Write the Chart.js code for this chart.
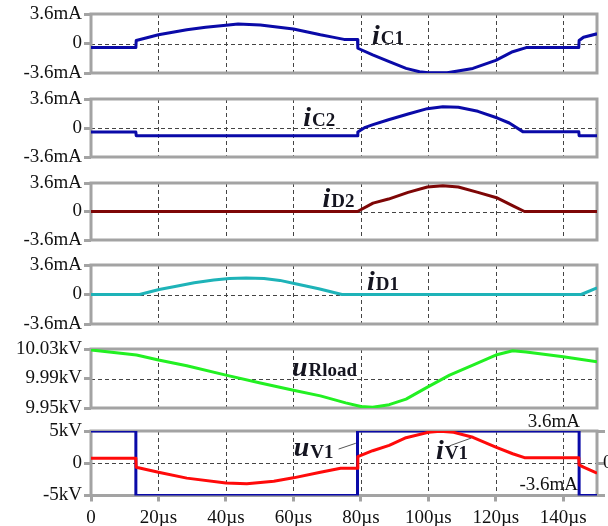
<!DOCTYPE html>
<html>
<head>
<meta charset="utf-8">
<script src="https://cdn.jsdelivr.net/npm/chart.js@4.4.1/dist/chart.umd.min.js"></script>
<style>
  html, body { margin: 0; padding: 0; background: #fff; width: 608px; height: 526px; overflow: hidden; position: relative; }
  .panel { position: absolute; left: 0; width: 608px; }
</style>
</head>
<body>
<div class="panel" style="top:0px;height:87px"><canvas id="c1"></canvas></div>
<div class="panel" style="top:85px;height:86px"><canvas id="c2"></canvas></div>
<div class="panel" style="top:169px;height:85px"><canvas id="c3"></canvas></div>
<div class="panel" style="top:251px;height:87px"><canvas id="c4"></canvas></div>
<div class="panel" style="top:335px;height:87px"><canvas id="c5"></canvas></div>
<div class="panel" style="top:410px;height:126px"><canvas id="c6"></canvas></div>
<script>
// tick values / labels
const timeTicks = [0, 20, 40, 60, 80, 100, 120, 140];
const timeTickLabels = ['0', '20µs', '40µs', '60µs', '80µs', '100µs', '120µs', '140µs'];
const mATicks = [-3.6, 0, 3.6];
const mATickLabels = ['-3.6mA', '0', '3.6mA'];
const loadTicks = [9.95, 9.99, 10.03];
const loadTickLabels = ['9.95kV', '9.99kV', '10.03kV'];
const kVTicks = [-5, 0, 5];
const kVTickLabels = ['-5kV', '0', '5kV'];

// series (time in µs)
const tIC1 = [0, 13.3, 13.4, 20, 28.4, 34, 40, 43.6, 50.2, 60, 68, 72, 75, 79, 79.1, 83.5, 88.4, 93.4, 97.4, 100, 105.6, 113.2, 120, 125, 129, 144.6, 144.7, 146, 150];
const iC1 = [-0.5, -0.5, 0.36, 1.06, 1.67, 1.98, 2.22, 2.37, 2.25, 1.76, 1.06, 0.75, 0.5, 0.5, -0.58, -1.4, -2.22, -3.04, -3.45, -3.58, -3.58, -3.04, -2.05, -1.0, -0.5, -0.5, 0.36, 0.77, 1.18];

const tIC2 = [0, 13.3, 13.4, 79, 79.1, 81.3, 83.6, 88.2, 94, 99.7, 104.3, 108.9, 114.7, 120.5, 124, 128, 144.6, 144.7, 150];
const iC2 = [-0.5, -0.5, -0.95, -0.95, -0.5, 0.08, 0.41, 1.03, 1.74, 2.4, 2.65, 2.57, 2.07, 1.24, 0.62, -0.45, -0.45, -0.95, -0.95];

const tID2 = [0, 79, 83.6, 88.2, 94, 99.7, 104.3, 108.9, 114.7, 120.5, 125.1, 128.5, 150];
const iD2 = [0, 0, 1.06, 1.57, 2.42, 3.1, 3.26, 3.1, 2.42, 1.7, 0.72, 0, 0];

const tID1 = [0, 14.4, 20.2, 24.9, 30.6, 36.4, 41, 46, 51.3, 56, 60.6, 67.5, 74.4, 145.3, 150];
const iD1 = [0, 0, 0.61, 0.98, 1.43, 1.76, 1.96, 2.0, 1.96, 1.72, 1.31, 0.7, 0, 0, 0.82];

const tLoad = [0, 13.5, 20, 28.4, 40, 50.2, 60, 68, 75.5, 80, 83.5, 88.4, 93.4, 100, 106.3, 113.2, 120, 125, 129, 140, 150];
const uLoad = [10.0287, 10.0218, 10.015, 10.0073, 9.9946, 9.984, 9.974, 9.9664, 9.957, 9.952, 9.951, 9.9545, 9.962, 9.979, 9.9946, 10.008, 10.0218, 10.0277, 10.026, 10.0195, 10.0127];

const tUV1 = [0, 13.3, 13.3, 79, 79, 144.7, 144.7, 150];
const uV1 = [5, 5, -5, -5, 5, 5, -5, -5];

const tIV1 = [0, 13.3, 13.4, 20, 28.4, 40, 46.2, 54.2, 60, 68, 74, 79, 79.1, 83.5, 88.4, 93.4, 100, 103.5, 107.5, 113.2, 120, 125, 128.5, 144.6, 144.7, 146, 150];
const iV1 = [0.55, 0.55, -0.44, -1.0, -1.66, -2.2, -2.29, -2.0, -1.63, -1.0, -0.55, -0.55, 0.74, 1.4, 2.0, 2.85, 3.45, 3.56, 3.45, 2.9, 1.8, 1.06, 0.62, 0.62, -0.19, -0.44, -1.11];

const SERIF = '"Liberation Serif", "Times New Roman", serif';

function pts(t, v) {
  return t.map((x, i) => ({ x: x, y: v[i] }));
}

function line(t, v, color, extra) {
  return Object.assign({
    data: pts(t, v),
    borderColor: color,
    borderWidth: 3,
    pointRadius: 0,
    fill: false,
    tension: 0,
    borderJoinStyle: 'round'
  }, extra || {});
}

// dashed grid + grey frame, drawn under the curves
const framePlugin = {
  id: 'frame',
  beforeDatasetsDraw(chart) {
    const a = chart.chartArea, ctx = chart.ctx, xs = chart.scales.x, ys = chart.scales.y;
    ctx.save();
    ctx.fillStyle = '#444444';
    timeTicks.forEach(v => {
      const px = Math.round(xs.getPixelForValue(v));
      for (let y = a.top; y < a.bottom; y += 7) ctx.fillRect(px, y, 1, Math.min(4, a.bottom - y));
    });
    const py = Math.round(ys.getPixelForValue((ys.min + ys.max) / 2));
    for (let x = a.left; x < a.right; x += 7) ctx.fillRect(x, py, Math.min(4, a.right - x), 1);
    ctx.strokeStyle = '#a3a3a3';
    ctx.lineWidth = 3;
    ctx.strokeRect(a.left, a.top, a.right - a.left, a.bottom - a.top);
    ctx.restore();
  }
};

function labelPlugin(labels, leaders, extraText) {
  return {
    id: 'names',
    afterDraw(chart) {
      const ctx = chart.ctx, xs = chart.scales.x, ys = chart.scales.y;
      ctx.save();
      (leaders || []).forEach(l => {
        ctx.strokeStyle = '#555';
        ctx.lineWidth = 1;
        ctx.beginPath();
        ctx.moveTo(xs.getPixelForValue(l.x1), ys.getPixelForValue(l.y1));
        ctx.lineTo(xs.getPixelForValue(l.x2), ys.getPixelForValue(l.y2));
        ctx.stroke();
      });
      labels.forEach(l => {
        const x = xs.getPixelForValue(l.x), y = ys.getPixelForValue(l.y);
        ctx.fillStyle = '#151520';
        ctx.textBaseline = 'alphabetic';
        ctx.textAlign = 'left';
        ctx.font = 'italic bold 28px ' + SERIF;
        ctx.fillText(l.main, x, y);
        const w = ctx.measureText(l.main).width;
        ctx.font = 'bold 19px ' + SERIF;
        ctx.fillText(l.sub, x + w + 1, y + l.drop);
      });
      if (extraText) extraText(chart, ctx);
      ctx.restore();
    }
  };
}

function makePanel(id, datasets, yMin, yMax, yTicks, yLabels, opts) {
  const bottomAxis = !!opts.bottomAxis;
  const scales = {
    x: {
      type: 'linear', min: 0, max: 150,
      afterBuildTicks: s => { s.ticks = timeTicks.map(v => ({ value: v })); },
      ticks: {
        display: bottomAxis,
        padding: 7,
        color: '#111',
        font: { family: SERIF, size: 19, lineHeight: 1 },
        maxRotation: 0,
        callback: (v, i) => timeTickLabels[i]
      },
      grid: {
        drawOnChartArea: false,
        drawTicks: bottomAxis, tickLength: 6, tickColor: '#a3a3a3', tickWidth: 3
      },
      border: { display: false }
    },
    y: {
      type: 'linear', min: yMin, max: yMax,
      afterBuildTicks: s => { s.ticks = yTicks.map(v => ({ value: v })); },
      afterFit: s => { s.width = 91; },
      ticks: {
        padding: 2,
        color: '#111',
        font: { family: SERIF, size: 19 },
        callback: (v, i) => yLabels[i]
      },
      grid: {
        drawOnChartArea: false,
        tickLength: 7, tickColor: '#a3a3a3', tickWidth: 3
      },
      border: { display: false }
    }
  };
  if (opts.right) {
    scales.y2 = {
      type: 'linear', position: 'right', min: -3.6, max: 3.6,
      afterBuildTicks: s => { s.ticks = mATicks.map(v => ({ value: v })); },
      afterFit: s => { s.width = 11; },
      ticks: { display: false },
      grid: { drawOnChartArea: false, tickLength: 8, tickColor: '#a3a3a3', tickWidth: 3 },
      border: { display: false }
    };
  }
  return new Chart(document.getElementById(id), {
    type: 'line',
    data: { datasets: datasets },
    options: {
      responsive: true,
      maintainAspectRatio: false,
      animation: false,
      events: [],
      layout: { padding: { top: opts.padTop || 14, bottom: bottomAxis ? 1.5 : 14, left: 0, right: opts.right ? 0 : 11 } },
      plugins: { legend: { display: false }, tooltip: { enabled: false } },
      scales: scales
    },
    plugins: [framePlugin, labelPlugin(opts.labels, opts.leaders, opts.extraText)]
  });
}

makePanel('c1', [line(tIC1, iC1, '#0a0aa8')], -3.6, 3.6, mATicks, mATickLabels,
  { labels: [{ x: 83.3, y: 0, main: 'i', sub: 'C1', drop: 0 }] });

makePanel('c2', [line(tIC2, iC2, '#0a0aa8')], -3.6, 3.6, mATicks, mATickLabels,
  { labels: [{ x: 62.9, y: 0.2, main: 'i', sub: 'C2', drop: 0 }] });

makePanel('c3', [line(tID2, iD2, '#7e0606')], -3.6, 3.6, mATicks, mATickLabels,
  { labels: [{ x: 68.6, y: 0.55, main: 'i', sub: 'D2', drop: 0 }] });

makePanel('c4', [line(tID1, iD1, '#1eb3b8')], -3.6, 3.6, mATicks, mATickLabels,
  { labels: [{ x: 81.8, y: 0.61, main: 'i', sub: 'D1', drop: 0 }] });

makePanel('c5', [line(tLoad, uLoad, '#22f022')], 9.95, 10.03, loadTicks, loadTickLabels,
  { labels: [{ x: 59.6, y: 9.993, main: 'u', sub: 'Rload', drop: 0 }] });

makePanel('c6', [
    line(tIV1, iV1, '#ff0a0a', { yAxisID: 'y2' }),
    line(tUV1, uV1, '#0a0aa8', { borderJoinStyle: 'miter' })
  ], -5, 5, kVTicks, kVTickLabels,
  {
    bottomAxis: true,
    right: true,
    padTop: 21,
    labels: [
      { x: 60.1, y: 1.17, main: 'u', sub: 'V1', drop: 2 },
      { x: 102.3, y: 0.66, main: 'i', sub: 'V1', drop: 0 }
    ],
    leaders: [
      { x1: 73.4, y1: 2.2, x2: 78.5, y2: 3.1 },
      { x1: 106.3, y1: 2.7, x2: 112.7, y2: 3.9 }
    ],
    extraText: (chart, ctx) => {
      const y2 = chart.scales.y2, a = chart.chartArea;
      ctx.fillStyle = '#111';
      ctx.font = '19px ' + SERIF;
      ctx.textBaseline = 'bottom';
      ctx.textAlign = 'right';
      ctx.fillText(mATickLabels[2], a.right - 17, y2.getPixelForValue(mATicks[2]) + 1);
      ctx.fillText(mATickLabels[0], a.right - 19, y2.getPixelForValue(mATicks[0]) - 1);
      ctx.textBaseline = 'middle';
      ctx.textAlign = 'left';
      ctx.fillText(mATickLabels[1], a.right + 6, y2.getPixelForValue(mATicks[1]));
    }
  });
</script>
</body>
</html>
